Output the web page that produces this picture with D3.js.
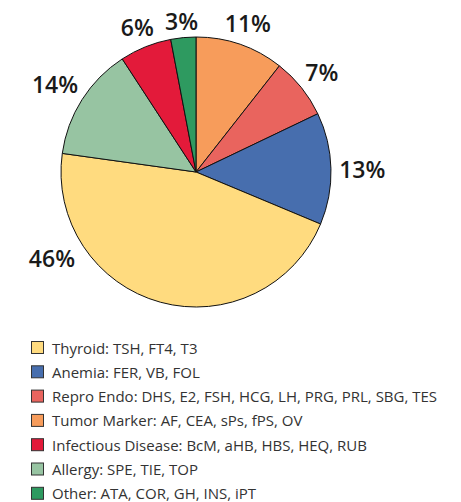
<!DOCTYPE html>
<html>
<head>
<meta charset="utf-8">
<script src="https://cdn.jsdelivr.net/npm/d3@7"></script>
<style>
  html, body { margin: 0; padding: 0; background: #fff; }
  svg { display: block; }
</style>
</head>
<body>
<div id="chart"></div>
<script>
(function () {
  // slices, clockwise from 12 o'clock
  var categories = ["Tumor Marker", "Repro Endo", "Anemia", "Thyroid", "Allergy", "Infectious Disease", "Other"];
  var values = [10.6, 7.3, 13.4, 45.9, 13.6, 6.2, 3.0];
  var colors = ["#f79c5b", "#e9645e", "#476eae", "#ffdb7f", "#97c4a2", "#e31a3a", "#2e9a60"];

  // legend order and texts
  var legendCats = ["Thyroid", "Anemia", "Repro Endo", "Tumor Marker", "Infectious Disease", "Allergy", "Other"];
  var legendTests = ["TSH, FT4, T3", "FER, VB, FOL", "DHS, E2, FSH, HCG, LH, PRG, PRL, SBG, TES",
                     "AF, CEA, sPs, fPS, OV", "BcM, aHB, HBS, HEQ, RUB", "SPE, TIE, TOP", "ATA, COR, GH, INS, iPT"];

  var w = 461,
      h = 502,
      cx = 196,
      cy = 172,
      r = 135;

  var color = d3.scaleOrdinal().domain(categories).range(colors);

  var svg = d3.select("#chart")
      .append("svg")
      .attr("width", w)
      .attr("height", h);

  var pie = d3.pie().sort(null).value(function(d) { return d.v; });
  var arc = d3.arc().innerRadius(0).outerRadius(r);

  var rows = categories.map(function(c, i) { return {c: c, v: values[i]}; });
  var arcs = pie(rows);

  var g = svg.append("g").attr("transform", "translate(" + cx + "," + cy + ")");

  g.selectAll("path")
      .data(arcs)
      .enter()
      .append("path")
      .attr("d", arc)
      .attr("fill", function(d) { return color(d.data.c); })
      .attr("stroke", "#111")
      .attr("stroke-width", 1)
      .attr("stroke-linejoin", "round");

  // the big slice has its label pushed round to the lower left
  var labelAngle = {"Thyroid": 239.5 * Math.PI / 180};
  var pad = 8;

  var labels = g.selectAll("text.pct")
      .data(arcs)
      .enter()
      .append("text")
      .attr("class", "pct")
      .text(function(d) { return Math.round(d.data.v) + "%"; })
      .attr("font-family", "'Open Sans', sans-serif")
      .attr("font-weight", 600)
      .attr("font-size", "23px")
      .attr("fill", "#1a1a1a")
      .attr("text-anchor", "middle")
      .attr("dominant-baseline", "central");

  labels.each(function(d) {
    var b = this.getBBox();
    var a = labelAngle[d.data.c] !== undefined ? labelAngle[d.data.c] : (d.startAngle + d.endAngle) / 2;
    var s = Math.sin(a), c = Math.cos(a);
    var hw = b.width / 2, hh = 17 / 2;
    var dist = r + pad + hw * Math.abs(s) + hh * Math.abs(c);
    d3.select(this)
      .attr("x", dist * s)
      .attr("y", -dist * c + 1);
  });

  // legend
  var legend = svg.append("g").attr("transform", "translate(31,347)");
  var item = legend.selectAll("g")
      .data(legendCats)
      .enter()
      .append("g")
      .attr("transform", function(d, i) { return "translate(0," + (i * 24.3) + ")"; });

  item.append("rect")
      .attr("x", 0.5)
      .attr("y", -5.5)
      .attr("width", 12)
      .attr("height", 12)
      .attr("fill", function(d) { return color(d); })
      .attr("stroke", "#333")
      .attr("stroke-width", 1);

  item.append("text")
      .text(function(d, i) { return d + ": " + legendTests[i]; })
      .attr("x", 21)
      .attr("y", 0.5)
      .attr("dominant-baseline", "central")
      .attr("font-family", "'Open Sans', sans-serif")
      .attr("font-size", "15px")
      .attr("fill", "#333");
})();
</script>
</body>
</html>
